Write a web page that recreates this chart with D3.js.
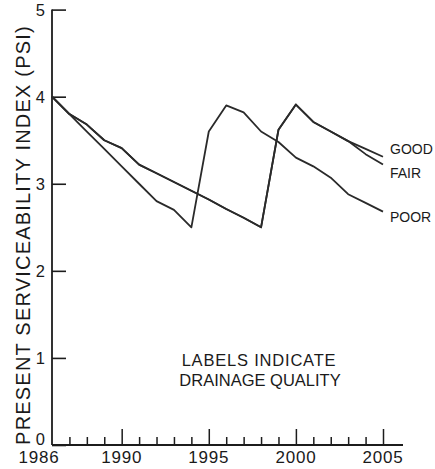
<!DOCTYPE html>
<html>
<head>
<meta charset="utf-8">
<script src="https://cdn.jsdelivr.net/npm/d3@7"></script>
<style>
  html, body { margin: 0; padding: 0; background: #fff; }
  svg { display: block; }
  text { font-family: "Liberation Sans", Arial, sans-serif; fill: #1a1a1a; }
</style>
</head>
<body>
<svg id="chart" width="435" height="469"></svg>
<script>
// Pavement serviceability over time, by drainage quality
const years = d3.range(1986, 2006);
const good = [4.0, 3.8, 3.68, 3.5, 3.41, 3.22, 3.12, 3.02, 2.92, 2.82, 2.71, 2.61, 2.5,
              3.62, 3.91, 3.71, 3.6, 3.49, 3.4, 3.31];
const fair = [4.0, 3.8, 3.68, 3.5, 3.41, 3.22, 3.12, 3.02, 2.92, 2.82, 2.71, 2.61, 2.5,
              3.62, 3.91, 3.71, 3.6, 3.49, 3.34, 3.22];
const poor = [4.0, 3.8, 3.6, 3.4, 3.2, 3.0, 2.8, 2.7, 2.5, 3.6, 3.9, 3.82, 3.6,
              3.48, 3.3, 3.2, 3.07, 2.88, 2.78, 2.68];
const seriesNames = ["GOOD", "FAIR", "POOR"];
const yTicks = [0, 1, 2, 3, 4, 5];
const xLabelYears = [1986, 1990, 1995, 2000, 2005];

const svg = d3.select("#chart");

const x = d3.scaleLinear().domain([1986, 2005]).range([52, 383]);
const y = d3.scaleLinear().domain([0, 5]).range([445, 9.6]);

const ink = "#1c1c1c";

// y axis: ticks point inward, labels on the left
const yAxis = svg.append("g").attr("transform", `translate(${x(1986)},0)`)
  .call(d3.axisRight(y).tickValues(yTicks).tickSize(14).tickFormat(""));
yAxis.select(".domain").remove();
yAxis.selectAll(".tick line").attr("stroke", ink).attr("stroke-width", 1.6);
svg.append("line")
  .attr("x1", x(1986)).attr("x2", x(1986))
  .attr("y1", y(5)).attr("y2", y(0))
  .attr("stroke", ink).attr("stroke-width", 1.8);

svg.append("g").selectAll("text").data(yTicks).join("text")
  .attr("x", 45)
  .attr("y", d => d === 0 ? y(d) : y(d) + 6)
  .attr("text-anchor", "end")
  .attr("font-size", 16.5)
  .text(d => d);

// x axis: yearly ticks, longer every five years
const minorYears = years.filter(v => v > 1986 && v % 5 !== 0);
const majorYears = years.filter(v => v % 5 === 0);
const xMinor = svg.append("g").attr("transform", `translate(0,${y(0)})`)
  .call(d3.axisTop(x).tickValues(minorYears).tickSize(8).tickFormat(""));
const xMajor = svg.append("g").attr("transform", `translate(0,${y(0)})`)
  .call(d3.axisTop(x).tickValues(majorYears).tickSize(16).tickFormat(""));
[xMinor, xMajor].forEach(g => {
  g.select(".domain").remove();
  g.selectAll(".tick line").attr("stroke", ink).attr("stroke-width", 1.5);
});
svg.append("line")
  .attr("x1", x(1986)).attr("x2", 403)
  .attr("y1", y(0)).attr("y2", y(0))
  .attr("stroke", ink).attr("stroke-width", 1.8);

svg.append("g").selectAll("text").data(xLabelYears).join("text")
  .attr("x", d => d === 1986 ? x(d) - 13 : x(d))
  .attr("y", 463)
  .attr("text-anchor", "middle")
  .attr("font-size", 17)
  .attr("letter-spacing", 0.8)
  .text(d => d);

// axis title
svg.append("text")
  .attr("transform", `translate(30,235) rotate(-90)`)
  .attr("text-anchor", "middle")
  .attr("font-size", 20)
  .attr("letter-spacing", 1.2)
  .text("PRESENT SERVICEABILITY INDEX (PSI)");

// lines
const line = d3.line().x((d, i) => x(years[i])).y(d => y(d));
[good, fair, poor].forEach(vals => {
  svg.append("path")
    .datum(vals)
    .attr("d", line)
    .attr("fill", "none")
    .attr("stroke", "#2a2a2a")
    .attr("stroke-width", 1.8)
    .attr("stroke-linejoin", "round");
});

// series labels at line ends
const labelY = { GOOD: 154, FAIR: 178, POOR: 222 };
svg.append("g").selectAll("text").data(seriesNames).join("text")
  .attr("x", 390)
  .attr("y", d => labelY[d])
  .attr("font-size", 14)
  .text(d => d);

// note
const note = svg.append("text").attr("text-anchor", "middle").attr("font-size", 16.5);
note.append("tspan").attr("x", 259).attr("y", 366).attr("letter-spacing", 0.8).text("LABELS INDICATE");
note.append("tspan").attr("x", 260).attr("y", 386).text("DRAINAGE QUALITY");
</script>
</body>
</html>
